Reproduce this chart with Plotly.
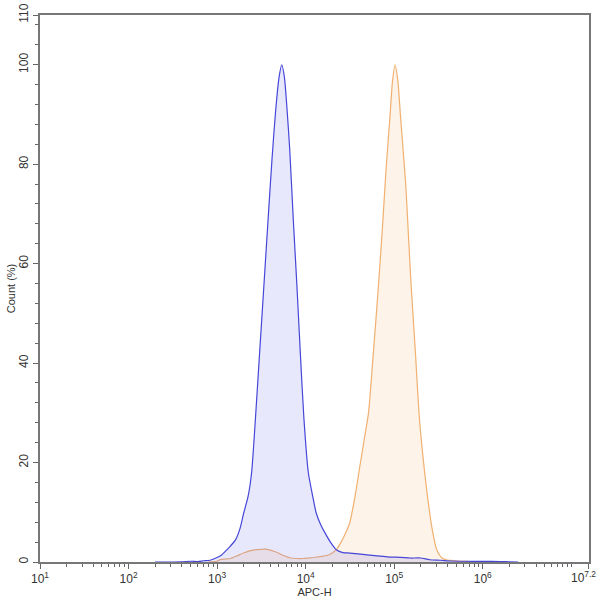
import plotly.graph_objects as go

# ---- data (log10 of APC-H, percent of max count) ----
blue_log10 = [2.30, 2.60, 2.70, 2.78, 2.85, 2.92, 3.00, 3.05, 3.09, 3.15, 3.21, 3.26, 3.30, 3.35, 3.39,
              3.43, 3.48, 3.53, 3.58, 3.62, 3.66, 3.70, 3.73, 3.76, 3.79, 3.82, 3.86, 3.90, 3.94,
              3.98, 4.03, 4.08, 4.12, 4.17, 4.22, 4.28, 4.35, 4.42, 4.50, 4.62, 4.72, 4.84, 4.95,
              5.07, 5.18, 5.30, 5.40, 5.52, 5.65, 5.80, 6.00, 6.20, 6.30, 6.40]
blue_pct = [0.0, 0.05, 0.15, 0.1, 0.25, 0.35, 0.9, 1.4, 2.1, 3.2, 4.5, 6.8, 9.8, 13.2, 18.0,
            28.0, 42.0, 56.0, 70.0, 81.0, 90.5, 97.5, 100.0, 97.5, 91.0, 83.0, 69.0, 56.0, 42.0,
            29.0, 18.0, 13.2, 9.8, 7.5, 5.8, 4.0, 2.4, 1.9, 1.8, 1.6, 1.4, 1.2, 1.0,
            0.95, 0.8, 0.8, 0.45, 0.35, 0.2, 0.15, 0.12, 0.1, 0.05, 0.0]

orange_log10 = [2.90, 3.00, 3.04, 3.10, 3.15, 3.22, 3.30, 3.38, 3.45, 3.55, 3.62, 3.68, 3.75, 3.83,
                3.90, 3.97, 4.03, 4.09, 4.17, 4.24, 4.30, 4.35, 4.40, 4.45, 4.50, 4.54, 4.57, 4.61,
                4.66, 4.71, 4.76, 4.82, 4.87, 4.91, 4.95, 4.98, 5.01, 5.04, 5.07, 5.10, 5.13, 5.16,
                5.19, 5.24, 5.28, 5.32, 5.37, 5.43, 5.48, 5.54, 5.60, 5.67, 5.75, 5.85, 6.00]
orange_pct = [0.0, 0.15, 0.5, 0.6, 0.7, 1.2, 1.8, 2.3, 2.5, 2.6, 2.3, 1.9, 1.3, 0.8,
              0.7, 0.7, 0.8, 0.9, 1.1, 1.3, 1.8, 2.6, 4.0, 5.8, 8.0, 11.5, 14.5, 19.0,
              24.5, 30.0, 41.0, 55.0, 68.0, 79.5, 89.0, 96.5, 100.0, 97.0, 90.0, 83.0, 76.0, 66.0,
              56.0, 42.0, 30.0, 22.0, 14.0, 6.5, 2.5, 0.8, 0.4, 0.3, 0.15, 0.1, 0.0]

x_tick_exp = [1, 2, 3, 4, 5, 6, 7.1999]
x_tick_text = ["10<sup>1</sup>", "10<sup>2</sup>", "10<sup>3</sup>", "10<sup>4</sup>",
               "10<sup>5</sup>", "10<sup>6</sup>", ""]
last_tick_text = "10<sup>7.2</sup>"
y_tick_vals = [0, 20, 40, 60, 80, 100, 110]

# ---- figure ----
fig = go.Figure()
fig.add_trace(go.Scatter(
    x=[10 ** v for v in orange_log10], y=orange_pct, mode="lines",
    line=dict(color="#f0b070", width=1.2, shape="spline", smoothing=0.6),
    fill="tozeroy", fillcolor="rgba(253,243,232,1)", hoverinfo="skip"))
fig.add_trace(go.Scatter(
    x=[10 ** v for v in blue_log10], y=blue_pct, mode="lines",
    line=dict(color="#4646d8", width=1.2, shape="spline", smoothing=0.6),
    fill="tozeroy", fillcolor="rgba(100,100,240,0.15)", hoverinfo="skip"))

minor_x = []
for d in range(1, 7):
    for m in range(2, 10):
        minor_x.append(m * 10 ** d)
minor_x.append(10 ** 7)

axis_font = dict(family="Liberation Sans, Arial, sans-serif", size=12, color="#333")
title_font = dict(family="Liberation Sans, Arial, sans-serif", size=11, color="#333")

fig.update_layout(
    width=600, height=602,
    margin=dict(l=40, r=11, t=15, b=40, autoexpand=False),
    paper_bgcolor="white", plot_bgcolor="white",
    showlegend=False,
    font=axis_font,
)
fig.add_annotation(
    x=7.2, xref="x", y=0, yref="paper", text=last_tick_text, showarrow=False,
    xanchor="right", yanchor="top", xshift=9, yshift=-5, font=axis_font,
)
fig.update_xaxes(
    type="log", range=[1, 7.2], automargin=False,
    tickmode="array", tickvals=[10 ** e for e in x_tick_exp], ticktext=x_tick_text,
    ticks="outside", ticklen=5, tickcolor="#666", tickwidth=1,
    minor=dict(tickmode="array", tickvals=minor_x, ticks="outside", ticklen=3,
               tickcolor="#666", tickwidth=1),
    showline=True, linecolor="#777", linewidth=1.5, mirror=True,
    showgrid=False, zeroline=False,
    title=dict(text="APC-H", font=title_font, standoff=2),
    tickfont=axis_font,
)
fig.update_yaxes(
    range=[0, 110], automargin=False,
    tickmode="array", tickvals=y_tick_vals,
    ticks="outside", ticklen=5, tickcolor="#666", tickwidth=1,
    minor=dict(dtick=4, tick0=0, ticks="outside", ticklen=3, tickcolor="#666", tickwidth=1),
    tickangle=-90,
    showline=True, linecolor="#777", linewidth=1.5, mirror=True,
    showgrid=False, zeroline=False,
    title=dict(text="Count (%)", font=title_font, standoff=0),
    tickfont=axis_font,
)

fig.write_html("out.html")
